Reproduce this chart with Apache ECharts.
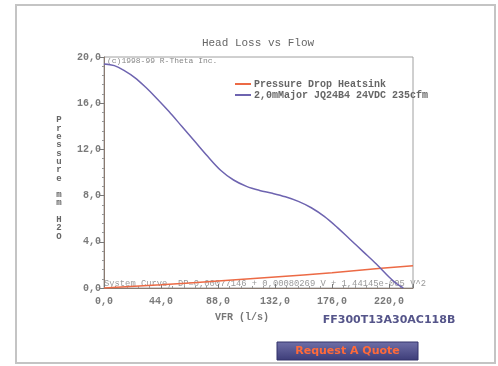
<!DOCTYPE html>
<html>
<head>
<meta charset="utf-8">
<script src="https://cdn.jsdelivr.net/npm/echarts@6/dist/echarts.min.js"></script>
<style>
html,body{margin:0;padding:0;background:#fff;}
#c{width:498px;height:366px;}
</style>
</head>
<body>
<div id="c"></div>
<script>
// ---- data ----
var title = 'Head Loss vs Flow';
var xTicks = [0, 44, 88, 132, 176, 220];
var yTicks = [0, 4, 8, 12, 16, 20];
var fanName = '2,0mMajor JQ24B4 24VDC 235cfm';
var sinkName = 'Pressure Drop Heatsink';
var fanFlow = [0, 8, 16, 24, 32, 40, 50, 60, 70, 80, 90, 100, 110, 120, 130, 140, 150, 160, 170, 180, 190, 200, 210, 220, 226, 231];
var fanDp   = [19.4, 19.25, 18.8, 18.2, 17.4, 16.5, 15.3, 14.0, 12.7, 11.4, 10.2, 9.35, 8.8, 8.45, 8.2, 7.9, 7.5, 6.95, 6.2, 5.25, 4.2, 3.15, 2.1, 0.95, 0.35, 0.0];
var sinkFlow = [0, 44, 88, 132, 176, 214, 238.5];
var sinkDp   = [0.0, 0.28, 0.6, 0.95, 1.33, 1.70, 1.92];
var partNo = 'FF300T13A30AC118B';

function pairs(xs, ys){ return xs.map(function(x,i){ return [x, ys[i]]; }); }

var chart = echarts.init(document.getElementById('c'), null, {renderer:'canvas'});
var mono = '"Liberation Mono", "DejaVu Sans Mono", monospace';
var tickColor = '#7a7a7a';
chart.setOption({
  animation:false,
  backgroundColor:'#fff',
  grid:{left:104, right:85, top:57, bottom:78, show:true, borderColor:'#a0a0a0', borderWidth:1, backgroundColor:'#fff'},
  xAxis:{type:'value', min:0, max:238.5, interval:44,
    axisLine:{onZero:false, lineStyle:{color:'#8a7a70', width:1}},
    axisTick:{show:true, inside:true, length:4, lineStyle:{color:'#777'}},
    minorTick:{show:true, splitNumber:5, length:2, lineStyle:{color:'#999'}},
    splitLine:{show:false},
    axisLabel:{color:tickColor, fontFamily:mono, fontWeight:'bold', fontSize:10, margin:8,
      formatter:function(v){ return xTicks.indexOf(v)>=0 ? v.toFixed(1).replace('.',',') : ''; }}
  },
  yAxis:{type:'value', min:0, max:20, interval:4,
    axisLine:{show:true, onZero:false, lineStyle:{color:'#8a7a70', width:1}},
    axisTick:{show:true, length:4, lineStyle:{color:'#777'}},
    minorTick:{show:true, splitNumber:5, length:2, lineStyle:{color:'#999'}},
    splitLine:{show:false},
    axisLabel:{color:tickColor, fontFamily:mono, fontWeight:'bold', fontSize:10, margin:3,
      formatter:function(v){ return yTicks.indexOf(v)>=0 ? v.toFixed(1).replace('.',',') : ''; }}
  },
  legend:{show:true, orient:'vertical', left:235, top:79, itemWidth:16, itemHeight:2, itemGap:1,
    icon:'rect', padding:0,
    textStyle:{fontFamily:mono, fontSize:10, lineHeight:9, fontWeight:'bold', color:'#666', padding:[0,0,0,-2]},
    data:[sinkName, fanName]},
  series:[
    {name:sinkName, type:'line', data:pairs(sinkFlow, sinkDp), smooth:true, showSymbol:false,
      lineStyle:{color:'#ec6a45', width:1.5}, itemStyle:{color:'#ec6a45'}},
    {name:fanName, type:'line', data:pairs(fanFlow, fanDp), smooth:0.35, showSymbol:false,
      lineStyle:{color:'#6e64b0', width:1.5}, itemStyle:{color:'#6e64b0'}}
  ],
  graphic:[
    {type:'rect', shape:{x:16, y:5, width:479, height:358}, style:{fill:'none', stroke:'#c4c4c4', lineWidth:2}, z:-1},
    {type:'text', x:258, y:43, style:{text:title, fontFamily:mono, fontSize:11, fill:'#666', align:'center', verticalAlign:'middle'}},
    {type:'text', x:107, y:61, style:{text:'(c)1998-99 R-Theta Inc.', fontFamily:mono, fontSize:8, fill:'#888', verticalAlign:'middle'}},
    {type:'text', x:104, y:284, style:{text:'System Curve, DP=0,00077146 + 0,00080269 V + 1,44145e-005 V^2', fontFamily:mono, fontSize:8.8, fill:'#999', verticalAlign:'middle'}},
    {type:'text', x:59, y:116, style:{text:'P\nr\ne\ns\ns\nu\nr\ne\n\nm\nm\n\nH\n2\nO', fontFamily:mono, fontWeight:'bold', fontSize:9, lineHeight:8.3, fill:'#666', align:'center', verticalAlign:'top'}},
    {type:'text', x:242, y:317, style:{text:'VFR (l/s)', fontFamily:mono, fontWeight:'bold', fontSize:10, fill:'#777', align:'center', verticalAlign:'middle'}},
    {type:'text', x:389, y:320, style:{text:partNo, fontFamily:'"DejaVu Sans", sans-serif', fontWeight:'bold', fontSize:11, fill:'#55558a', align:'center', verticalAlign:'middle'}},
    {type:'rect', shape:{x:277, y:342, width:141, height:18},
      style:{fill:new echarts.graphic.LinearGradient(0,0,0,1,[{offset:0,color:'#7070a8'},{offset:1,color:'#3c3c78'}]), stroke:'#33336a', lineWidth:1}},
    {type:'text', x:347.5, y:351.5, style:{text:'Request A Quote', fontFamily:'"DejaVu Sans", sans-serif', fontWeight:'bold', fontSize:11, fill:'#ff6a3a', align:'center', verticalAlign:'middle'}}
  ]
});
</script>
</body>
</html>
